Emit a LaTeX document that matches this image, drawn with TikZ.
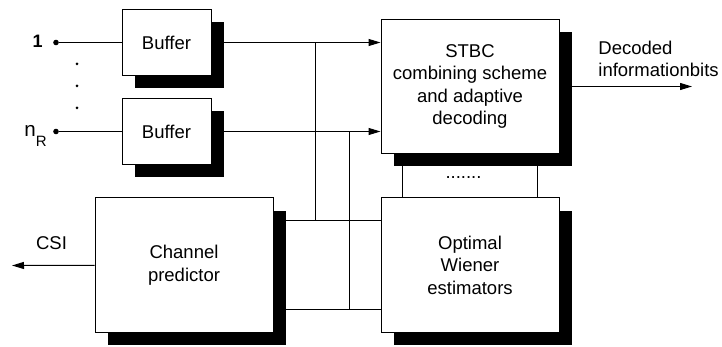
\documentclass[tikz,border=0pt]{standalone}
\usepackage{fontspec}
\setmainfont{Liberation Sans}
\usetikzlibrary{arrows.meta,shadows,backgrounds,calc}

\tikzset{
	block/.style = {draw, fill=white, line width=0.5pt, align=center, inner sep=0pt,
		drop shadow={shadow xshift=6.5pt, shadow yshift=-6.5pt, fill=black, opacity=1}},
	smallblock/.style = {block, minimum width=44.5pt, minimum height=33pt},
	bigblock/.style = {block, minimum width=89pt, minimum height=67pt},
	wire/.style = {line width=0.5pt},
	sig/.style = {wire, -{Triangle[length=6pt,width=3.5pt]}},
	port/.style = {circle, fill=black, inner sep=0pt, minimum size=2.8pt},
}

\begin{document}
\begin{tikzpicture}[x=0.5pt, y=-0.5pt, font=\fontsize{9.25}{11.25}\selectfont]
	\useasboundingbox (0,0) rectangle (722,347);

	% receive branches
	\node[port] (in1) at (56,42.5) {};
	\node[port] (inN) at (56,131.5) {};
	\node[anchor=base east, inner sep=0pt, font=\fontsize{9}{10}\selectfont\bfseries] at (43,47.5) {1};
	\node[anchor=base east, inner sep=0pt, font=\fontsize{10.3}{12}\selectfont] at (47,136.7) {n\raisebox{-5pt}{\fontsize{7.5}{8}\selectfont R}};
	\foreach \y in {64,86,108}
		\fill (77,\y) circle (0.75pt);

	\node[smallblock] (buffer1) at (166.5,42.5) {Buffer};
	\node[smallblock] (bufferN) at (166.5,131.5) {Buffer};

	% decoder and estimators
	\node[bigblock] (stbc) at (470,86.5) {STBC\\combining scheme\\and adaptive\\decoding};
	\node[bigblock] (wiener) at (470,265) {Optimal\\Wiener\\estimators};
	\node[bigblock] (predictor) at (184,265) {Channel\\predictor};
	\node at (463.5,178) {.......};

	\coordinate (link1) at (315,221);
	\coordinate (link2) at (349,309);
	\coordinate (out) at (692,86.5);
	\coordinate (csi) at (12,265.5);

	\node[anchor=west, align=left, inner sep=0pt] at (598,59) {Decoded\\informationbits};
	\node at (51.5,243) {CSI};

	\begin{scope}[on background layer]
		\draw[wire] (in1) -- (buffer1);
		\draw[wire] (inN) -- (bufferN);
		\draw[sig] (buffer1) -- (buffer1 -| stbc.west);
		\draw[sig] (bufferN) -- (bufferN -| stbc.west);
		\draw[sig] (stbc) -- (out);
		\draw[wire] (link1 |- buffer1) -- (link1);
		\draw[wire] (link2 |- bufferN) -- (link2);
		\draw[wire] (predictor.east |- link1) -- (wiener.west |- link1);
		\draw[wire] (predictor.east |- link2) -- (wiener.west |- link2);
		\draw[wire] ([xshift=11pt]stbc.south west) -- ([xshift=11pt]wiener.north west);
		\draw[wire] ([xshift=-11pt]stbc.south east) -- ([xshift=-11pt]wiener.north east);
		\draw[sig] (predictor) -- (csi);
	\end{scope}
\end{tikzpicture}
\end{document}
